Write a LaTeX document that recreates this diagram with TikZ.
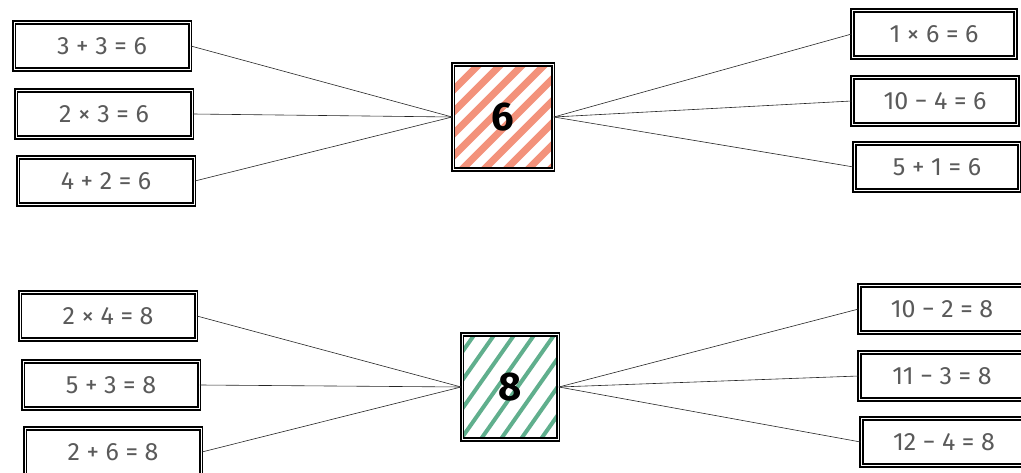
\documentclass[tikz,border=0pt]{standalone}
\usepackage{fontspec}
\setsansfont{Fira Sans}
\usetikzlibrary{backgrounds}
\definecolor{ink}{HTML}{5A5A5A}
\definecolor{redhatch}{HTML}{F0775A}
\definecolor{greenhatch}{HTML}{45A27A}

\tikzset{
  eqbox/.style={draw=black,line width=1.7pt,double=white,double distance=0.8pt,
    minimum width=176pt,minimum height=47pt,text=ink,
    font=\sffamily\fontsize{25}{25}\selectfont},
  numbox/.style={draw=black,line width=1.8pt,double=white,double distance=0.8pt,
    minimum width=100pt,minimum height=105pt,
    font=\sffamily\bfseries\fontsize{40}{40}\selectfont},
  link/.style={draw=black!85,line width=0.6pt}
}

\begin{document}
\begin{tikzpicture}[x=1pt,y=-1pt]
  \clip (0,0) rectangle (1021,473);

  % sums giving 6
  \node[numbox] (six) at (503,117) {6};
  \node[eqbox] (sixL1) at (102,46) {3 + 3 = 6};
  \node[eqbox] (sixL2) at (104,114) {2 × 3 = 6};
  \node[eqbox] (sixL3) at (106,181) {4 + 2 = 6};
  \node[eqbox,minimum width=163pt] (sixR1) at (934,34) {1 × 6 = 6};
  \node[eqbox,minimum width=165pt] (sixR2) at (935,101) {10 − 4 = 6};
  \node[eqbox,minimum width=165pt] (sixR3) at (937,167) {5 + 1 = 6};

  % sums giving 8
  \node[numbox,minimum width=96pt] (eight) at (510,387) {8};
  \node[eqbox] (eightL1) at (108,316) {2 × 4 = 8};
  \node[eqbox] (eightL2) at (111,385) {5 + 3 = 8};
  \node[eqbox] (eightL3) at (113,452) {2 + 6 = 8};
  \node[eqbox,minimum width=165pt] (eightR1) at (942,309) {10 − 2 = 8};
  \node[eqbox,minimum width=165pt] (eightR2) at (942,376) {11 − 3 = 8};
  \node[eqbox,minimum width=165pt] (eightR3) at (944,442) {12 − 4 = 8};

  % paper and hatching
  \begin{scope}[on background layer]
    \fill[white] (0,0) rectangle (1021,473);
    \begin{scope}
      \clip (six.south west) rectangle (six.north east);
      \foreach \k in {-130,-108,...,70}
        \draw[redhatch,opacity=0.8,line width=7pt] ([xshift=\k pt]six.south) -- ++(140,-140);
    \end{scope}
    \begin{scope}
      \clip (eight.south west) rectangle (eight.north east);
      \foreach \k in {-130,-110,...,60}
        \draw[greenhatch,opacity=0.85,line width=4pt] ([xshift=\k pt]eight.south) -- ++(95,-135);
    \end{scope}
  \end{scope}

  % links
  \foreach \n in {1,2,3} {
    \draw[link] (sixL\n.east) -- (six.west);
    \draw[link] (six.east) -- (sixR\n.west);
    \draw[link] (eightL\n.east) -- (eight.west);
    \draw[link] (eight.east) -- (eightR\n.west);
  }
\end{tikzpicture}
\end{document}
